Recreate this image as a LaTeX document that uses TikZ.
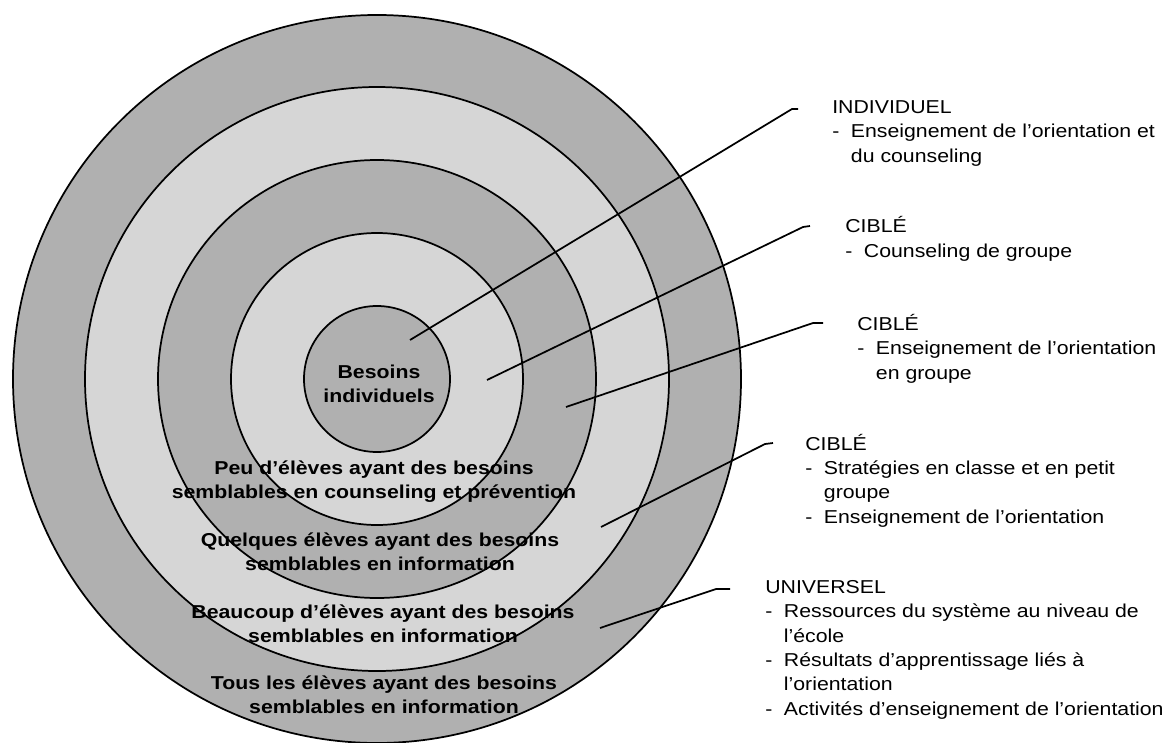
\documentclass[tikz,border=0pt]{standalone}
\usepackage{fontspec}
\setmainfont{Liberation Sans}[FakeStretch=1.14]
\usepackage{tikz}

\definecolor{ringdark}{gray}{0.69}
\definecolor{ringlight}{gray}{0.84}
\newcommand{\dashitem}{\makebox[1em][l]{-}}
\newcommand{\hangitem}{\hspace*{1em}}

\begin{document}
\begin{tikzpicture}[x = 0.75pt, y = -0.75pt]
		\tikzset{ring/.style = {draw = black, line width = 1.3pt},
			leader/.style = {line width = 1.3pt, line join = round},
			ringtext/.style = {font = \bfseries\fontsize{14}{18}\selectfont, align = center, anchor = base, inner sep = 0pt},
			tiertext/.style = {font = \fontsize{14}{18.2}\selectfont, align = left, anchor = base west, inner sep = 0pt}}
		\useasboundingbox (0,0) rectangle (1166,742);
		% target rings, outside in
		\coordinate (O) at (377,379);
		\filldraw[ring, fill = ringdark] (O) circle (364);
		\filldraw[ring, fill = ringlight] (O) circle (292);
		\filldraw[ring, fill = ringdark] (O) circle (219);
		\filldraw[ring, fill = ringlight] (O) circle (146);
		\filldraw[ring, fill = ringdark] (O) circle (73);
		% texts in the rings (placed by their last line)
		\node[ringtext] (core) at (379,402) {Besoins\\individuels};
		\node[ringtext] (peu) at (374,498) {Peu d’élèves ayant des besoins\\semblables en counseling et prévention};
		\node[ringtext] (quelques) at (380,570) {Quelques élèves ayant des besoins\\semblables en information};
		\node[ringtext] (beaucoup) at (383,642) {Beaucoup d’élèves ayant des besoins\\semblables en information};
		\node[ringtext] (tous) at (384,713) {Tous les élèves ayant des besoins\\semblables en information};
		% tiers on the right
		\node[tiertext] (individuel) at (832,162) {INDIVIDUEL\\\dashitem Enseignement de l’orientation et\\\hangitem du counseling};
		\node[tiertext] (cibleA) at (845,257) {CIBLÉ\\\dashitem Counseling de groupe};
		\node[tiertext] (cibleB) at (857,379) {CIBLÉ\\\dashitem Enseignement de l’orientation\\\hangitem en groupe};
		\node[tiertext] (cibleC) at (805,523) {CIBLÉ\\\dashitem Stratégies en classe et en petit\\\hangitem groupe\\\dashitem Enseignement de l’orientation};
		\node[tiertext] (universel) at (765,715) {UNIVERSEL\\\dashitem Ressources du système au niveau de\\\hangitem l’école\\\dashitem Résultats d’apprentissage liés à\\\hangitem l’orientation\\\dashitem Activités d’enseignement de l’orientation};
		% leader lines
		\coordinate (inA) at (410,340);
		\coordinate (kneeA) at (792,109);
		\coordinate (tailA) at (798,109);
		\coordinate (inB) at (487,380);
		\coordinate (kneeB) at (803,227);
		\coordinate (tailB) at (810,226);
		\coordinate (inC) at (566,407);
		\coordinate (kneeC) at (813,323);
		\coordinate (tailC) at (823,323);
		\coordinate (inD) at (601,527);
		\coordinate (kneeD) at (765,444);
		\coordinate (tailD) at (773,443);
		\coordinate (inE) at (600,628);
		\coordinate (kneeE) at (716,589);
		\coordinate (tailE) at (730,589);
		\draw[leader] (inA) -- (kneeA) -- (tailA);
		\draw[leader] (inB) -- (kneeB) -- (tailB);
		\draw[leader] (inC) -- (kneeC) -- (tailC);
		\draw[leader] (inD) -- (kneeD) -- (tailD);
		\draw[leader] (inE) -- (kneeE) -- (tailE);
	\end{tikzpicture}
\end{document}
